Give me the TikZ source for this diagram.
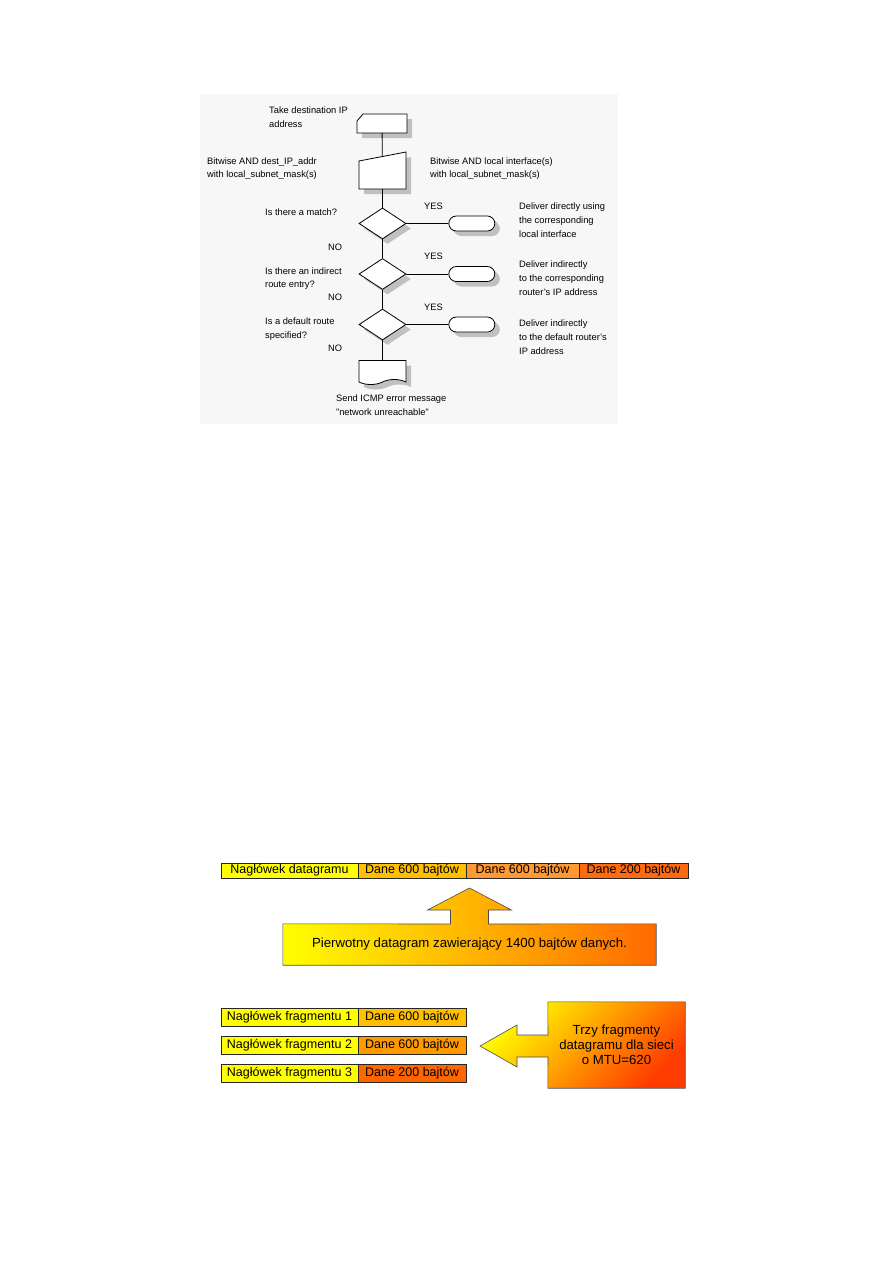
\documentclass[tikz,border=0pt]{standalone}
\usepackage{fontspec}
\setmainfont{Liberation Sans}
\usetikzlibrary{positioning, shapes.geometric, shapes.misc, shapes.symbols, shadows, backgrounds}

\definecolor{hdryel}{HTML}{FFFF00}
\definecolor{dane1}{HTML}{FFC000}
\definecolor{dane2}{HTML}{FF9933}
\definecolor{dane3}{HTML}{FF6A10}
\definecolor{frag2}{HTML}{FF9900}
\definecolor{frag3}{HTML}{FF6600}
\definecolor{shadegray}{HTML}{C0C0C0}
\definecolor{paper}{HTML}{F7F7F7}
\definecolor{orng}{HTML}{FF6A00}
\definecolor{redorng}{HTML}{FF3C00}

\begin{document}
\begin{tikzpicture}[x=1pt, y=-1pt,
    flow/.style={draw, fill=white, line width=0.8pt, inner sep=0pt,
        drop shadow={shadow xshift=5pt, shadow yshift=-5pt, fill=shadegray, opacity=1}},
    slot/.style={minimum width=47pt, inner sep=0pt, outer sep=0pt},
    decision/.style={flow, diamond, minimum width=47pt, minimum height=31pt},
    term/.style={flow, rounded rectangle, minimum width=46pt, minimum height=15pt,
        drop shadow={shadow xshift=3pt, shadow yshift=-3pt, fill=shadegray, opacity=1}},
    doc/.style={flow, tape, tape bend top=none, tape bend height=5pt,
        minimum width=47pt, minimum height=24pt},
    line/.style={line width=0.8pt},
    txt/.style={anchor=west, align=left, inner sep=0pt, font=\fontsize{9.3}{13.8}\selectfont},
    cell/.style={draw=black!85, line width=0.6pt, inner sep=0pt, outer sep=0pt,
        minimum height=15pt, font=\fontsize{12.5}{14}\selectfont},
    frow/.style={cell, minimum height=18pt},
    bigtxt/.style={align=center, inner sep=0pt, font=\fontsize{13.2}{15}\selectfont},
    callout/.style={draw=black!70, line width=0.6pt}
]
\useasboundingbox (0,0) rectangle (893,1263);
\fill[paper] (200,94) rectangle (618,424);

% routing flowchart
\node[slot, minimum width=50pt, minimum height=19pt] (take) at (382,123.5) {};
\draw[flow] (take.south west) -- (take.south east) -- (take.north east)
    -- ([xshift=6pt]take.north west) -- ([yshift=-7pt]take.north west) -- cycle;
\node[slot, minimum height=32.5pt] (mask) at (382.5,172.75) {};
\draw[flow] (mask.south west) -- (mask.south east) -- ([yshift=4.5pt]mask.north east)
    -- ([yshift=-4.5pt]mask.north west) -- cycle;
\node[decision] (match) at (382.5,223.5) {};
\node[decision] (indirect) at (382.5,274) {};
\node[decision] (default) at (382.5,324.5) {};
\node[doc] (icmp) at (382.5,370) {};
\node[term, right=42pt of match] (direct) {};
\node[term, right=42pt of indirect] (viarouter) {};
\node[term, right=42pt of default] (viadefault) {};

\draw[line] (take) -- (mask);
\draw[line] (mask) -- (match);
\draw[line] (match) -- (indirect);
\draw[line] (indirect) -- (default);
\draw[line] (default) -- (icmp);
\draw[line] (match) -- (direct);
\draw[line] (indirect) -- (viarouter);
\draw[line] (default) -- (viadefault);

\node[txt] (taketxt) at (269,117.5) {Take destination IP\\address};
\node[txt] (masktxt) at (207,168.5) {Bitwise AND dest\_IP\_addr\\with local\_subnet\_mask(s)};
\node[txt] (iftxt) at (430,168.5) {Bitwise AND local interface(s)\\with local\_subnet\_mask(s)};
\node[txt] (matchtxt) at (265,212) {Is there a match?};
\node[txt] (indirecttxt) at (265,278.5) {Is there an indirect\\route entry?};
\node[txt] (defaulttxt) at (265,329) {Is a default route\\specified?};
\node[txt] (icmptxt) at (336,405) {Send ICMP error message\\"network unreachable"};
\node[txt] (directtxt) at (519,220) {Deliver directly using\\the corresponding\\local interface};
\node[txt] (viaroutertxt) at (519,278) {Deliver indirectly\\to the corresponding\\router's IP address};
\node[txt] (viadefaulttxt) at (519,337) {Deliver indirectly\\to the default router's\\IP address};
\node[txt] (yes1) at (424,206) {YES};
\node[txt] (yes2) at (424,256) {YES};
\node[txt] (yes3) at (424,307) {YES};
\node[txt] (no1) at (328,247) {NO};
\node[txt] (no2) at (328,297) {NO};
\node[txt] (no3) at (328,348) {NO};

% original datagram
\node[cell, fill=hdryel, minimum width=137pt] (dghdr) at (289.5,870.5) {Nagłówek datagramu};
\node[cell, fill=dane1, minimum width=108pt, right=0pt of dghdr] (dgdata1) {Dane 600 bajtów};
\node[cell, fill=dane2, minimum width=113pt, right=0pt of dgdata1] (dgdata2) {Dane 600 bajtów};
\node[cell, fill=dane3, minimum width=109pt, right=0pt of dgdata2] (dgdata3) {Dane 200 bajtów};

\node[bigtxt, minimum width=373pt, minimum height=41pt] (orig) at (469.5,944.5)
    {Pierwotny datagram zawierający 1400 bajtów danych.};
\begin{scope}[on background layer]
\draw[callout, left color=hdryel, right color=orng]
    (orig.south west) -- (orig.north west) -- (450.5,924) -- (450.5,910) -- (427.5,910)
    -- (469.5,888) -- (511.5,910) -- (488.5,910) -- (488.5,924) -- (orig.north east)
    -- (orig.south east) -- cycle;
\end{scope}

% fragments
\node[frow, fill=hdryel, minimum width=137pt] (fhdr1) at (289.5,1017) {Nagłówek fragmentu 1};
\node[frow, fill=dane1, minimum width=108pt, right=0pt of fhdr1] (fdata1) {Dane 600 bajtów};
\node[frow, fill=hdryel, minimum width=137pt, below=10pt of fhdr1] (fhdr2) {Nagłówek fragmentu 2};
\node[frow, fill=frag2, minimum width=108pt, right=0pt of fhdr2] (fdata2) {Dane 600 bajtów};
\node[frow, fill=hdryel, minimum width=137pt, below=10pt of fhdr2] (fhdr3) {Nagłówek fragmentu 3};
\node[frow, fill=frag3, minimum width=108pt, right=0pt of fhdr3] (fdata3) {Dane 200 bajtów};

\node[bigtxt, minimum width=137pt, minimum height=86pt] (mtu) at (616.5,1045)
    {Trzy fragmenty\\datagramu dla sieci\\o MTU=620};
\begin{scope}[on background layer]
\draw[callout, top color=hdryel, bottom color=redorng, shading angle=45]
    (mtu.north west) -- (mtu.north east) -- (mtu.south east) -- (mtu.south west)
    -- (548,1057) -- (517,1057) -- (517,1067) -- (480,1046) -- (517,1025)
    -- (517,1035) -- (548,1035) -- cycle;
\end{scope}
\end{tikzpicture}
\end{document}
